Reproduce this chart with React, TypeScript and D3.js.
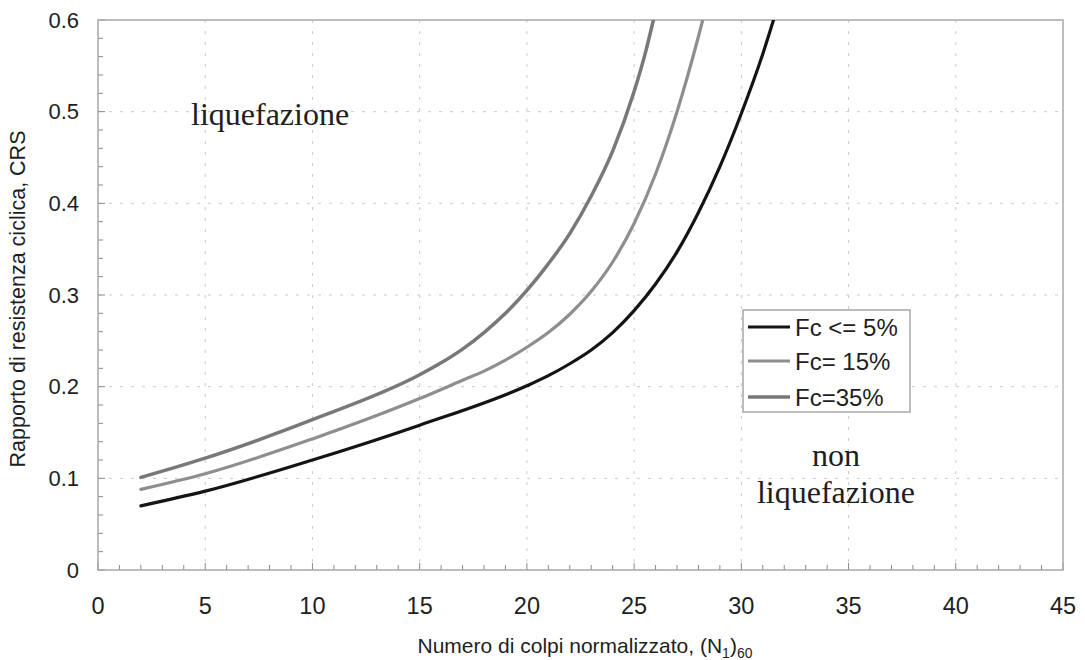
import React from "react";
import * as d3 from "d3";

// CRS curves, one pair of arrays per fines content
const fc5N = [2, 5, 10, 15, 20, 21, 22, 23, 24, 25, 26, 27, 28, 29, 30, 31, 31.5];
const fc5CRS = [0.07, 0.086, 0.12, 0.158, 0.201, 0.212, 0.225, 0.24, 0.259, 0.283, 0.312, 0.347, 0.39, 0.44, 0.498, 0.563, 0.6];

const fc15N = [2, 5, 10, 15, 17, 18, 19, 20, 21, 22, 23, 24, 25, 26, 27, 28, 28.2];
const fc15CRS = [0.088, 0.105, 0.143, 0.187, 0.207, 0.217, 0.229, 0.243, 0.259, 0.279, 0.304, 0.336, 0.378, 0.432, 0.5, 0.582, 0.6];

const fc35N = [2, 5, 10, 15, 16, 17, 18, 19, 20, 21, 22, 23, 24, 25, 25.5, 25.9];
const fc35CRS = [0.101, 0.122, 0.164, 0.213, 0.226, 0.241, 0.259, 0.28, 0.305, 0.334, 0.367, 0.408, 0.457, 0.522, 0.562, 0.6];

const seriesLabels = ["Fc <= 5%", "Fc= 15%", "Fc=35%"];
const xTicks = [0, 5, 10, 15, 20, 25, 30, 35, 40, 45];
const yTicks = [0, 0.1, 0.2, 0.3, 0.4, 0.5, 0.6];

const W = 1085;
const H = 660;
const left = 98, right = 1063, top = 20, bottom = 570;

export default function App() {
  const x = d3.scaleLinear().domain([0, 45]).range([left, right]);
  const y = d3.scaleLinear().domain([0, 0.6]).range([bottom, top]);

  const line = d3
    .line<[number, number]>()
    .x((d) => x(d[0]))
    .y((d) => y(d[1]))
    .curve(d3.curveMonotoneX);

  const series = [
    { label: seriesLabels[0], pts: fc5N.map((n, i) => [n, fc5CRS[i]] as [number, number]), color: "#141414", w: 3.2 },
    { label: seriesLabels[1], pts: fc15N.map((n, i) => [n, fc15CRS[i]] as [number, number]), color: "#8e8e8e", w: 3.2 },
    { label: seriesLabels[2], pts: fc35N.map((n, i) => [n, fc35CRS[i]] as [number, number]), color: "#787878", w: 3.5 },
  ];

  const xMinor = d3.range(0, 46, 1);
  const yMinor = d3.range(0, 0.601, 0.02);
  const sans = "'Liberation Sans', Arial, sans-serif";
  const serif = "'Liberation Serif', 'Times New Roman', serif";

  return (
    <svg width={W} height={H} style={{ position: "absolute", left: 0, top: 0, background: "#fff" }}>
      <defs>
        <clipPath id="plot">
          <rect x={left} y={top} width={right - left} height={bottom - top} />
        </clipPath>
      </defs>

      {/* faint dashed grid */}
      <g stroke="#b8b8b8" strokeWidth={1} strokeDasharray="3,8" opacity={0.75}>
        {yTicks.slice(1, -1).map((t) => (
          <line key={"gy" + t} x1={left} x2={right} y1={y(t)} y2={y(t)} />
        ))}
        {xTicks.slice(1, -1).map((t) => (
          <line key={"gx" + t} x1={x(t)} x2={x(t)} y1={top} y2={bottom} />
        ))}
      </g>

      {/* minor ticks, drawn inside */}
      <g stroke="#888" strokeWidth={1}>
        {yMinor.map((t, i) => (
          <line key={"my" + i} x1={left} x2={left + (i % 5 === 0 ? 7 : 5)} y1={y(t)} y2={y(t)} />
        ))}
        {xMinor.map((t) => (
          <line key={"mx" + t} x1={x(t)} x2={x(t)} y1={bottom} y2={bottom - (t % 5 === 0 ? 7 : 5)} />
        ))}
      </g>

      <rect x={left} y={top} width={right - left} height={bottom - top} fill="none" stroke="#a8a8a8" strokeWidth={1.5} />

      <g clipPath="url(#plot)" fill="none">
        {series.map((s) => (
          <path key={s.label} d={line(s.pts) || ""} stroke={s.color} strokeWidth={s.w} strokeLinecap="round" />
        ))}
      </g>

      {/* tick labels */}
      <g fontFamily={sans} fill="#1e1e1e">
        {yTicks.map((t) => (
          <text key={"ty" + t} x={79} y={y(t)} textAnchor="end" dominantBaseline="central" fontSize={22}>
            {t === 0 ? "0" : d3.format(".1f")(t)}
          </text>
        ))}
        {xTicks.map((t) => (
          <text key={"tx" + t} x={x(t)} y={606} textAnchor="middle" dominantBaseline="central" fontSize={23.5}>
            {t}
          </text>
        ))}
      </g>

      {/* axis titles */}
      <text
        transform={`translate(25, 299) rotate(-90)`}
        textAnchor="middle"
        fontFamily={sans}
        fontSize={21.5}
        fill="#1e1e1e"
      >
        Rapporto di resistenza ciclica, CRS
      </text>
      <text x={585} y={653} textAnchor="middle" fontFamily={sans} fontSize={21} fill="#1e1e1e">
        Numero di colpi normalizzato, (N
        <tspan fontSize={14} dy={5}>1</tspan>
        <tspan dy={-5}>)</tspan>
        <tspan fontSize={14} dy={5}>60</tspan>
      </text>

      {/* region labels */}
      <g fontFamily={serif} fontSize={32} fill="#1e1e1e">
        <text x={191} y={125}>liquefazione</text>
        <text x={836} y={466} textAnchor="middle">non</text>
        <text x={836} y={503} textAnchor="middle">liquefazione</text>
      </g>

      {/* legend */}
      <g>
        <rect x={743} y={310} width={167} height={102} fill="#fff" stroke="#a8a8a8" strokeWidth={1.5} />
        {series.map((s, i) => {
          const ly = [327, 361, 397][i];
          return (
            <g key={"lg" + i}>
              <line x1={748} x2={790} y1={ly} y2={ly} stroke={s.color} strokeWidth={s.w} />
              <text x={795} y={ly} dominantBaseline="central" fontFamily={sans} fontSize={24} fill="#1e1e1e">
                {s.label}
              </text>
            </g>
          );
        })}
      </g>
    </svg>
  );
}
